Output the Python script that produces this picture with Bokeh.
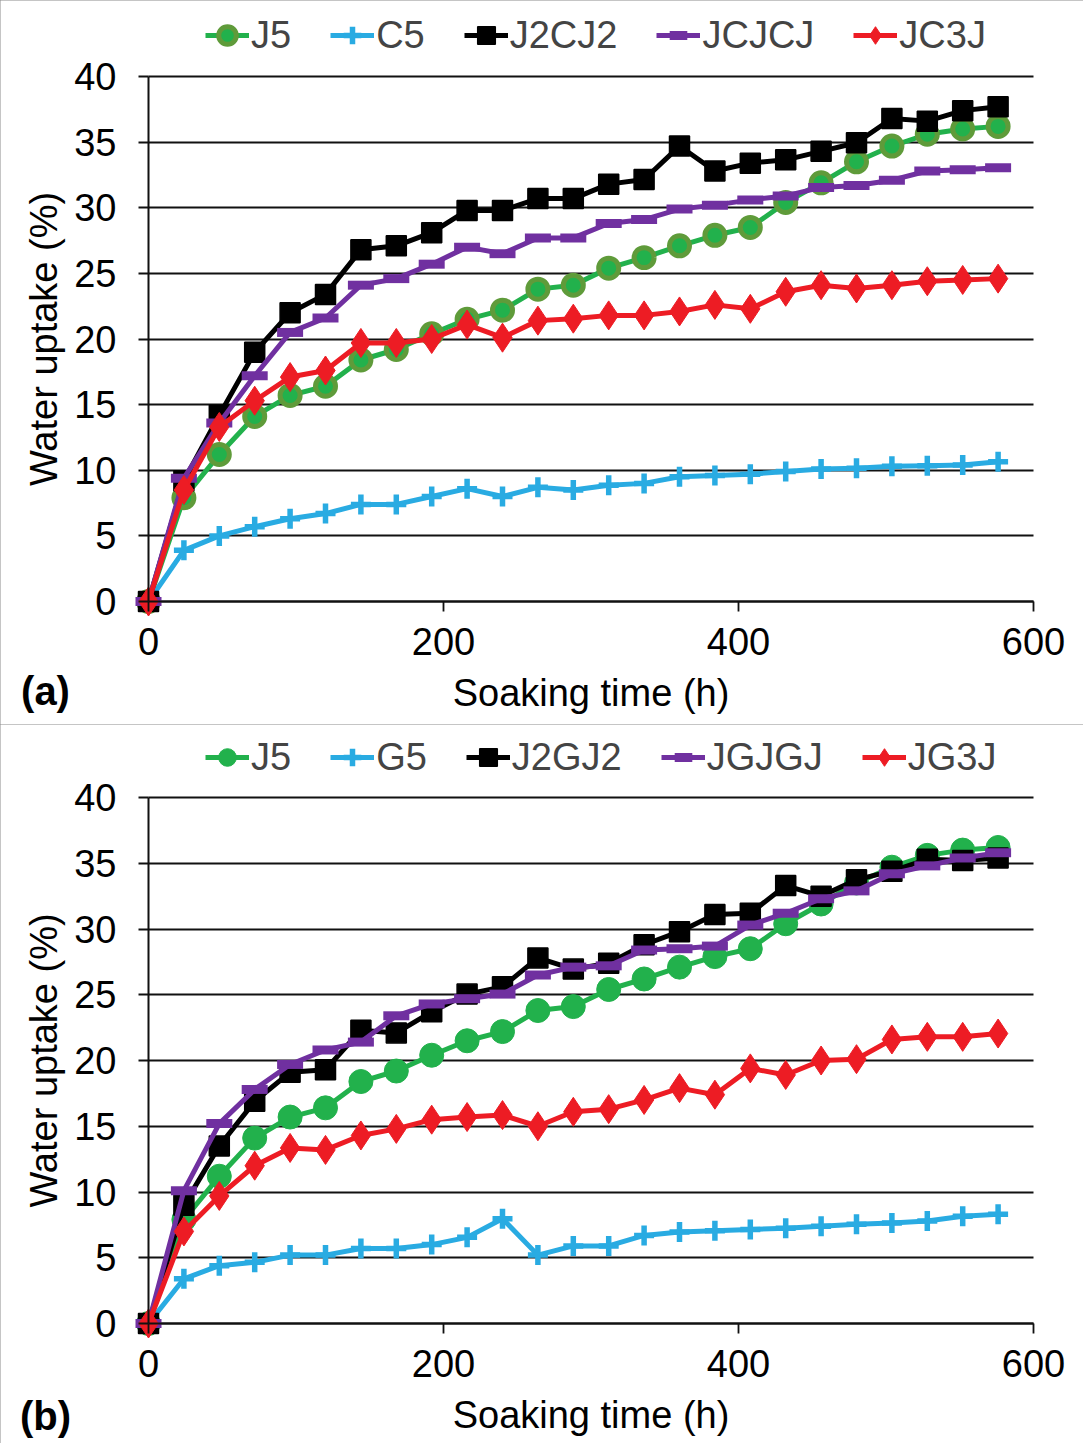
from bokeh.plotting import figure
from bokeh.models import Range1d, Legend, LegendItem, Label, FixedTicker, LinearAxis
from bokeh.layouts import column
from bokeh.embed import file_html
from bokeh.resources import INLINE

# ---------------- data ----------------
hours = [0, 24, 48, 72, 96, 120, 144, 168, 192, 216, 240, 264, 288,
         312, 336, 360, 384, 408, 432, 456, 480, 504, 528, 552, 576]

J5 = [0, 7.9, 11.2, 14.1, 15.7, 16.4, 18.4, 19.2, 20.4, 21.5, 22.2, 23.8, 24.1,
      25.4, 26.2, 27.1, 27.9, 28.5, 30.4, 31.9, 33.5, 34.7, 35.6, 36.0, 36.2]

# panel (a)
C5 = [0, 3.9, 5.0, 5.7, 6.3, 6.7, 7.4, 7.4, 8.0, 8.6, 8.0, 8.7, 8.5,
      8.85, 9.0, 9.5, 9.6, 9.7, 9.9, 10.1, 10.15, 10.3, 10.35, 10.4, 10.65]
J2CJ2 = [0, 9.2, 14.2, 19.0, 22.0, 23.4, 26.8, 27.1, 28.1, 29.8, 29.8, 30.7, 30.7,
         31.8, 32.15, 34.7, 32.8, 33.4, 33.65, 34.3, 34.95, 36.8, 36.6, 37.4, 37.7]
JCJCJ = [0, 9.4, 13.6, 17.2, 20.5, 21.6, 24.1, 24.6, 25.7, 27.0, 26.5, 27.7, 27.7,
         28.8, 29.1, 29.9, 30.2, 30.6, 30.9, 31.55, 31.7, 32.1, 32.8, 32.9, 33.05]
JC3J = [0, 8.5, 13.3, 15.3, 17.1, 17.6, 19.7, 19.7, 20.0, 21.1, 20.1, 21.4, 21.55,
        21.8, 21.8, 22.1, 22.6, 22.3, 23.6, 24.1, 23.85, 24.1, 24.4, 24.5, 24.6]

# panel (b)
G5 = [0, 3.4, 4.4, 4.65, 5.2, 5.2, 5.7, 5.7, 6.0, 6.55, 7.97, 5.2, 5.9,
      5.9, 6.7, 6.95, 7.05, 7.15, 7.25, 7.4, 7.55, 7.65, 7.8, 8.15, 8.3]
J2GJ2 = [0, 9.0, 13.5, 16.9, 19.1, 19.3, 22.3, 22.1, 23.7, 25.05, 25.6, 27.8, 26.95,
         27.4, 28.8, 29.8, 31.1, 31.2, 33.3, 32.5, 33.75, 34.4, 35.3, 35.2, 35.4]
JGJGJ = [0, 10.1, 15.2, 17.8, 19.7, 20.8, 21.4, 23.4, 24.3, 24.7, 25.05, 26.5, 27.1,
         27.2, 28.4, 28.5, 28.7, 30.3, 31.2, 32.3, 32.9, 34.2, 34.8, 35.4, 35.8]
JG3J = [0, 7.0, 9.7, 12.0, 13.35, 13.2, 14.3, 14.8, 15.5, 15.7, 15.85, 15.0, 16.1,
        16.3, 17.0, 17.9, 17.4, 19.4, 18.9, 20.0, 20.1, 21.6, 21.8, 21.8, 22.05]

names_a = ["J5", "C5", "J2CJ2", "JCJCJ", "JC3J"]
names_b = ["J5", "G5", "J2GJ2", "JGJGJ", "JG3J"]
x_ticks = [0, 200, 400, 600]
y_ticks = [0, 5, 10, 15, 20, 25, 30, 35, 40]
X_MAX = 600
Y_MAX = 40

FONT = "Liberation Sans"
FS = "38px"
GREEN = "#22b14c"
OLIVE = "#5f9b3a"
CYAN = "#29abe2"
BLACK = "#000000"
PURPLE = "#7030a0"
RED = "#ed1c24"
AXC = "#111111"

W = 1083
LEFT, RIGHT = 148, 1033  # pixel positions of x=0 and x=600


def make_panel(tag, names, data, height, top_px, zero_px, tag_px, leg_center, ring):
    xs = (RIGHT - LEFT) / X_MAX
    ys = (zero_px - top_px) / Y_MAX
    x_range = Range1d(-LEFT / xs, X_MAX + (W - RIGHT) / xs)
    y_range = Range1d(-(height - zero_px) / ys, Y_MAX + top_px / ys)
    p = figure(width=W, height=height, x_range=x_range, y_range=y_range,
               output_backend="svg", toolbar_location=None,
               min_border=0, min_border_left=0, min_border_right=0,
               min_border_top=0, min_border_bottom=0)
    p.outline_line_color = None
    p.background_fill_color = "white"
    p.xgrid.visible = False
    p.ygrid.grid_line_color = AXC
    p.ygrid.grid_line_width = 1.8
    p.ygrid.ticker = FixedTicker(ticks=y_ticks)
    grid_ok = True
    try:
        p.ygrid.cross_bounds = (0, X_MAX)
    except Exception:
        grid_ok = False
    if not grid_ok:
        p.ygrid.visible = False
        gax = LinearAxis(ticker=FixedTicker(ticks=y_ticks), major_label_text_font_size="0px",
                         axis_line_color=None, major_tick_in=int(RIGHT - LEFT), major_tick_out=10,
                         major_tick_line_color=AXC, major_tick_line_width=1.8,
                         minor_tick_line_color=None, fixed_location=0, level="underlay")
        p.add_layout(gax, "left")

    p.xaxis.ticker = FixedTicker(ticks=x_ticks)
    p.yaxis.ticker = FixedTicker(ticks=y_ticks)
    p.xaxis.fixed_location = 0
    p.yaxis.fixed_location = 0
    p.xaxis.bounds = (0, X_MAX)
    p.yaxis.bounds = (0, Y_MAX)
    for ax in (p.xaxis[0], p.yaxis[0]):
        ax.axis_line_color = AXC
        ax.axis_line_width = 2
        ax.major_tick_line_color = AXC
        ax.major_tick_line_width = 1.8
        ax.major_tick_out = 10
        ax.major_tick_in = 0
        ax.minor_tick_line_color = None
        ax.major_label_text_font = FONT
        ax.major_label_text_font_size = FS
        ax.major_label_text_color = "#000000"
        ax.axis_label_text_font = FONT
        ax.axis_label_text_font_size = FS
        ax.axis_label_text_font_style = "normal"
        ax.axis_label_text_color = "#000000"
    p.xaxis.axis_label = "Soaking time (h)"
    p.yaxis.axis_label = "Water uptake (%)"
    p.xaxis.major_label_standoff = 16
    p.xaxis.axis_label_standoff = 14
    p.yaxis.major_label_standoff = 22
    p.yaxis.axis_label_standoff = 6

    LW = 5
    items = []
    # J5
    l = p.line(hours, data[0], line_color=GREEN, line_width=LW)
    if ring:
        s = p.scatter(hours, data[0], marker="circle", size=20, fill_color=GREEN,
                      line_color=OLIVE, line_width=5)
    else:
        s = p.scatter(hours, data[0], marker="circle", size=24, fill_color=GREEN,
                      line_color=GREEN, line_width=1)
    items.append(LegendItem(label=names[0], renderers=[l, s]))
    # C5 / G5
    l = p.line(hours, data[1], line_color=CYAN, line_width=LW)
    s = p.scatter(hours, data[1], marker="cross", size=20, line_color=CYAN, line_width=5.5)
    items.append(LegendItem(label=names[1], renderers=[l, s]))
    # J2CJ2 / J2GJ2
    l = p.line(hours, data[2], line_color=BLACK, line_width=LW)
    s = p.scatter(hours, data[2], marker="square", size=20, fill_color=BLACK, line_color=BLACK,
                  line_width=1.5)
    items.append(LegendItem(label=names[2], renderers=[l, s]))
    # JCJCJ / JGJGJ
    l = p.line(hours, data[3], line_color=PURPLE, line_width=LW)
    s = p.scatter(hours, data[3], marker="dash", size=26, line_color=PURPLE, line_width=9)
    items.append(LegendItem(label=names[3], renderers=[l, s]))
    # JC3J / JG3J
    l = p.line(hours, data[4], line_color=RED, line_width=LW)
    s = p.scatter(hours, data[4], marker="diamond", size=29, fill_color=RED, line_color=RED)
    items.append(LegendItem(label=names[4], renderers=[l, s]))

    GH = 48
    PAD = 8
    legend = Legend(items=items, orientation="horizontal",
                    location=(205, height - leg_center - (GH + 2 * PAD) / 2 + 8),
                    border_line_color=None, background_fill_alpha=0,
                    label_text_font=FONT, label_text_font_size=FS,
                    glyph_width=44, glyph_height=GH, label_height=GH,
                    label_standoff=2, spacing=39, padding=PAD, margin=0)
    p.add_layout(legend)

    p.add_layout(Label(x=(45 - LEFT) / xs, y=-(tag_px - zero_px) / ys,
                       text=tag, text_align="center", text_baseline="middle",
                       text_font=FONT, text_font_size="40px", text_font_style="bold",
                       text_color="#000000"))
    p.styles = {"outline": "2px solid #8a8a8a", "outline-offset": "-2px"}
    return p


pa = make_panel("(a)", names_a, [J5, C5, J2CJ2, JCJCJ, JC3J], 724, 76, 601, 690, 35, True)
pb = make_panel("(b)", names_b, [J5, G5, J2GJ2, JGJGJ, JG3J], 719, 73, 599, 691, 33, False)

layout = column(pa, pb)
open("out.html", "w").write(file_html(layout, INLINE))
